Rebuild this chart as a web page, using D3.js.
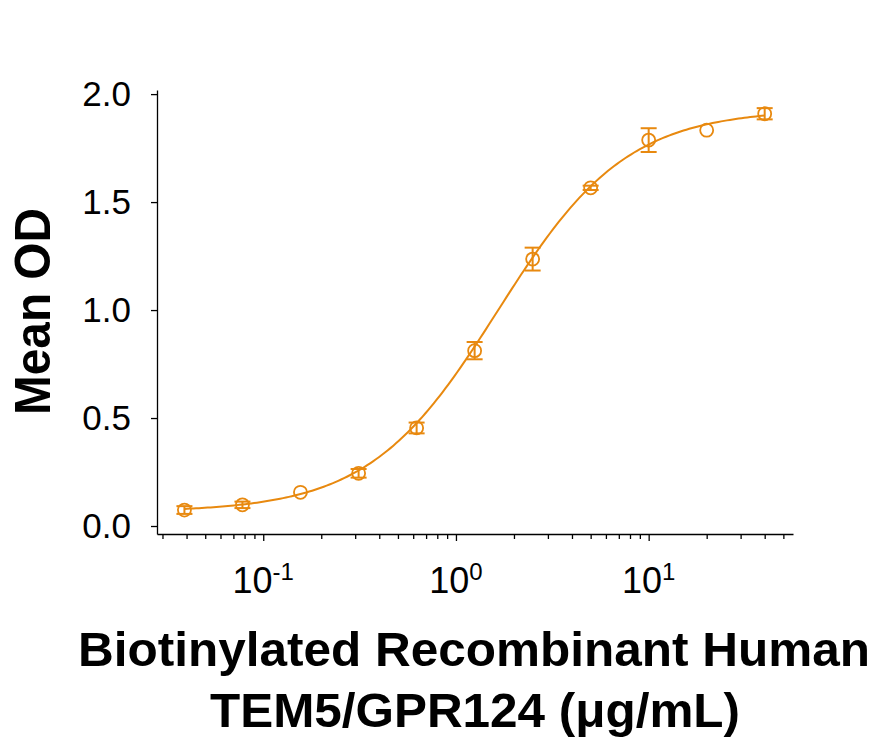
<!DOCTYPE html>
<html>
<head>
<meta charset="utf-8">
<script src="https://cdn.jsdelivr.net/npm/d3@7"></script>
<style>
  body { margin: 0; background: #fff; }
  text { font-family: Arial, "Liberation Sans", sans-serif; }
</style>
</head>
<body>
<div class="chart"></div>
<script>
// concentrations (ug/mL), mean OD and error bar half-heights
const conc = [0.039, 0.078, 0.156, 0.3125, 0.625, 1.25, 2.5, 5, 10, 20, 40];
const meanOD = [0.074, 0.098, 0.156, 0.244, 0.454, 0.812, 1.236, 1.566, 1.787, 1.833, 1.909];
const errOD = [0.018, 0.015, 0, 0.02, 0.025, 0.04, 0.053, 0.01, 0.055, 0, 0.026];
// 4PL fit: bottom, top, EC50, hill slope
const fitParams = [0.065, 1.93, 1.65, 1.3];
const yTicks = [0, 0.5, 1.0, 1.5, 2.0];
const xMajor = [0.1, 1, 10];
const xMajorLabels = [["10", "-1"], ["10", "0"], ["10", "1"]];
const xMinor = [0.03, 0.04, 0.05, 0.06, 0.07, 0.08, 0.09,
  0.2, 0.3, 0.4, 0.5, 0.6, 0.7, 0.8, 0.9,
  2, 3, 4, 5, 6, 7, 8, 9, 20, 30, 40, 50];

const width = 875;
const height = 742;
const color = "#e8890f";

const svg = d3
  .select(".chart")
  .append("svg")
  .attr("width", width)
  .attr("height", height);

const x = d3.scaleLog().domain([0.0281, 56.1]).range([157, 793]);
const y = d3.scaleLinear().domain([-0.037, 2.019]).range([534, 90]);

// y axis
const yAxis = svg
  .append("g")
  .attr("transform", "translate(157,0)")
  .call(
    d3.axisLeft(y).tickValues(yTicks).tickSize(6).tickSizeOuter(0)
      .tickPadding(20).tickFormat(d3.format(".1f"))
  );
yAxis.selectAll("path, line").attr("stroke", "#000").attr("stroke-width", 1.3);
yAxis.selectAll("text").attr("font-size", 35).attr("fill", "#000")
  .attr("font-family", "Arial, 'Liberation Sans', sans-serif");

// x axis: minor ticks
const xMinorAxis = svg
  .append("g")
  .attr("transform", "translate(0,534)")
  .call(d3.axisBottom(x).tickValues(xMinor).tickSize(5).tickSizeOuter(0).tickFormat(""));
xMinorAxis.selectAll("path, line").attr("stroke", "#000").attr("stroke-width", 1.3);

// x axis: major ticks with power labels
const xMajorAxis = svg
  .append("g")
  .attr("transform", "translate(0,534)")
  .call(d3.axisBottom(x).tickValues(xMajor).tickSize(7).tickSizeOuter(0).tickFormat(""));
xMajorAxis.select("path").remove();
xMajorAxis.selectAll("line").attr("stroke", "#000").attr("stroke-width", 1.3);

const labels = svg
  .selectAll("text.xlab")
  .data(xMajor)
  .enter()
  .append("text")
  .attr("class", "xlab")
  .attr("x", (d) => x(d))
  .attr("y", 593)
  .attr("text-anchor", "middle")
  .attr("fill", "#000");
labels.append("tspan").attr("font-size", 36).text((d, i) => xMajorLabels[i][0]);
labels.append("tspan").attr("font-size", 24).attr("dy", -13).text((d, i) => xMajorLabels[i][1]);

// fitted curve
const fit = (c) => fitParams[0] + (fitParams[1] - fitParams[0]) / (1 + Math.pow(fitParams[2] / c, fitParams[3]));
const curveX = d3.range(0, 201).map((i) => conc[0] * Math.pow(conc[conc.length - 1] / conc[0], i / 200));
svg
  .append("path")
  .datum(curveX)
  .attr("fill", "none")
  .attr("stroke", color)
  .attr("stroke-width", 2)
  .attr("d", d3.line().x((d) => x(d)).y((d) => y(fit(d))));

// error bars
const pts = conc.map((c, i) => ({ c: c, v: meanOD[i], e: errOD[i] }));
const bars = svg.selectAll("g.err").data(pts.filter((d) => d.e > 0)).enter().append("g").attr("class", "err")
  .attr("stroke", color).attr("stroke-width", 2);
bars.append("line")
  .attr("x1", (d) => x(d.c)).attr("x2", (d) => x(d.c))
  .attr("y1", (d) => y(d.v - d.e)).attr("y2", (d) => y(d.v + d.e));
bars.append("line")
  .attr("x1", (d) => x(d.c) - 8).attr("x2", (d) => x(d.c) + 8)
  .attr("y1", (d) => y(d.v - d.e)).attr("y2", (d) => y(d.v - d.e));
bars.append("line")
  .attr("x1", (d) => x(d.c) - 8).attr("x2", (d) => x(d.c) + 8)
  .attr("y1", (d) => y(d.v + d.e)).attr("y2", (d) => y(d.v + d.e));

// points
svg
  .selectAll("circle")
  .data(pts)
  .enter()
  .append("circle")
  .attr("cx", (d) => x(d.c))
  .attr("cy", (d) => y(d.v))
  .attr("r", 6.5)
  .attr("fill", "none")
  .attr("stroke", color)
  .attr("stroke-width", 1.8);

// axis titles
svg
  .append("text")
  .attr("transform", "translate(50,311.5) rotate(-90)")
  .attr("text-anchor", "middle")
  .attr("font-size", 50)
  .attr("font-weight", "bold")
  .attr("textLength", 207)
  .attr("lengthAdjust", "spacingAndGlyphs")
  .text("Mean OD");

svg
  .append("text")
  .attr("x", 474)
  .attr("y", 666)
  .attr("text-anchor", "middle")
  .attr("font-size", 48)
  .attr("font-weight", "bold")
  .attr("textLength", 792)
  .attr("lengthAdjust", "spacingAndGlyphs")
  .text("Biotinylated Recombinant Human");

svg
  .append("text")
  .attr("x", 475)
  .attr("y", 727)
  .attr("text-anchor", "middle")
  .attr("font-size", 49)
  .attr("font-weight", "bold")
  .attr("textLength", 530)
  .attr("lengthAdjust", "spacingAndGlyphs")
  .text("TEM5/GPR124 (\u03bcg/mL)");
</script>
</body>
</html>
